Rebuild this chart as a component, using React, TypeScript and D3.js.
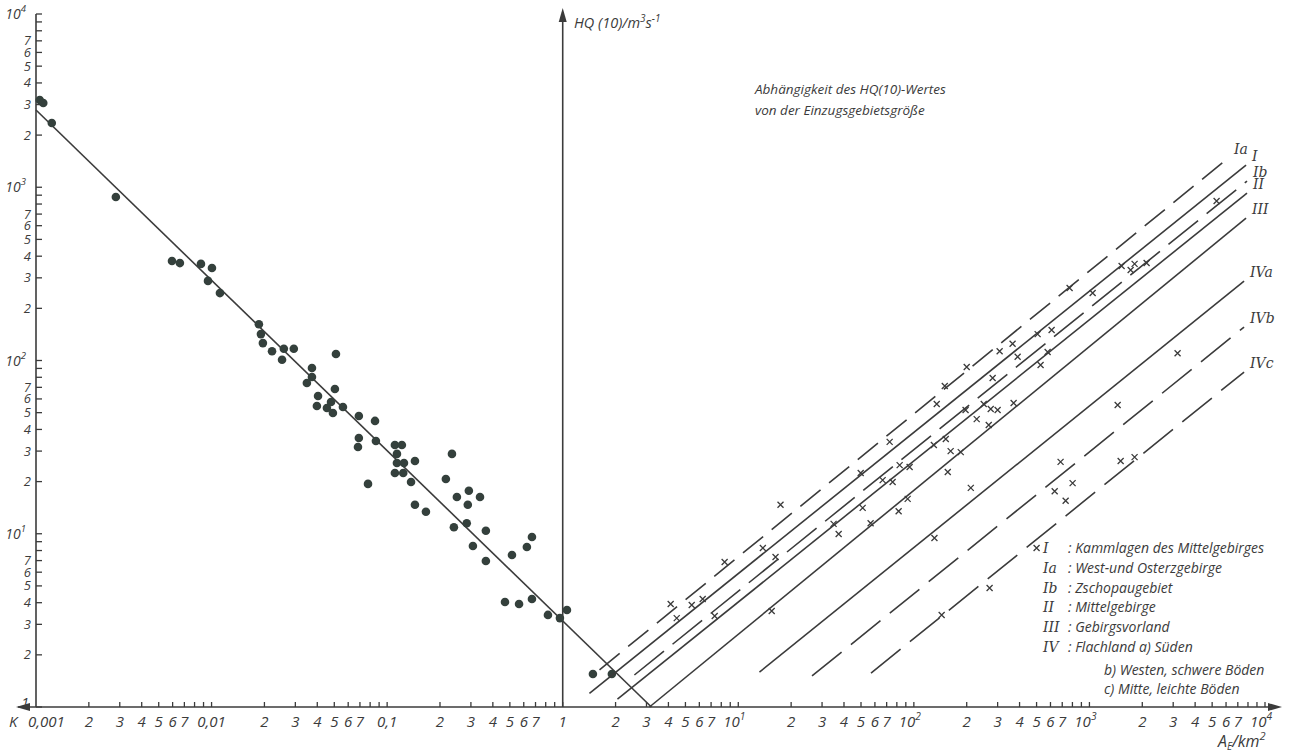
import React from "react";
import * as d3 from "d3";

const W = 1291;
const H = 756;

// left half: K values (dimensionless) with their HQ(10)
const K_POINTS: [number, number][] = [
  [0.00105, 3190], [0.0011, 3064], [0.00123, 2350], [0.00285, 879], [0.00595, 375],
  [0.0066, 365], [0.0087, 361], [0.01005, 342], [0.00954, 288], [0.01116, 245],
  [0.0186, 162], [0.0191, 142], [0.0196, 126], [0.0221, 113], [0.0258, 117],
  [0.0294, 117], [0.0252, 101], [0.0373, 90.5], [0.0349, 74.1], [0.0373, 80.3],
  [0.0511, 109], [0.0404, 62.4], [0.0398, 54.6], [0.0454, 53.2], [0.0479, 57.6],
  [0.0491, 49.8], [0.0504, 68.5], [0.056, 53.9], [0.069, 47.8], [0.0853, 44.8],
  [0.069, 35.7], [0.0682, 31.7], [0.0863, 34.3], [0.0778, 19.4], [0.1107, 32.5],
  [0.1213, 32.5], [0.1137, 28.9], [0.1137, 25.6], [0.1247, 25.6], [0.1107, 22.4],
  [0.1235, 22.4], [0.144, 26.3], [0.1368, 19.9], [0.144, 14.7], [0.1663, 13.4],
  [0.234, 28.9], [0.216, 20.7], [0.2496, 16.3], [0.292, 17.7], [0.338, 16.3],
  [0.288, 14.7], [0.24, 10.9], [0.284, 11.5], [0.365, 10.4], [0.308, 8.5],
  [0.365, 6.96], [0.514, 7.54], [0.625, 8.38], [0.668, 9.58], [0.469, 4.04],
  [0.564, 3.93], [0.668, 4.2], [0.824, 3.4], [0.964, 3.26], [1.057, 3.63],
  [1.486, 1.55], [1.905, 1.55],
];

// regression line HQ(K)
const K_LINE: [number, number][] = [[0.001, 2790], [3.2, 1]];

// right half: catchment areas A_E (km²) with HQ(10)
const AE_POINTS: [number, number][] = [
  [4.12, 3.93], [4.46, 3.26], [5.43, 3.88], [6.27, 4.2], [7.34, 3.35],
  [8.36, 6.87], [13.8, 8.27], [16.3, 7.34], [15.5, 3.58], [17.4, 14.7],
  [34.9, 11.4], [37.3, 9.97], [51.1, 14.1], [56.7, 11.5], [49.8, 22.4],
  [72.8, 33.9], [66.4, 20.4], [75.7, 19.9], [83, 24.9], [94.6, 24.3],
  [81.9, 13.5], [92.2, 15.9], [131, 9.45], [156, 22.7], [144, 3.4],
  [135, 56.1], [150, 71.2], [130, 32.5], [152, 35.2], [162, 30],
  [185, 29.6], [197, 51.8], [228, 45.9], [250, 56.1], [274, 52.5],
  [300, 51.8], [267, 42.4], [370, 56.9], [200, 91.7], [281, 79.2],
  [308, 113], [365, 125], [390, 105], [527, 94.2], [578, 112],
  [507, 142], [609, 150], [771, 262], [1043, 245], [1525, 351],
  [1717, 333], [1808, 361], [2117, 365], [5300, 833], [211, 18.4],
  [685, 26], [802, 19.6], [634, 17.6], [732, 15.5], [1448, 55.4],
  [1506, 26.3], [1808, 27.7], [3177, 110], [500, 8.27], [270, 4.86],
];

// regional lines HQ(10) = f(A_E): start and end points [A_E, HQ]
const REGIONS = ["Ia", "I", "Ib", "II", "III", "IVa", "IVb", "IVc"];
const REGION_START: [number, number][] = [
  [1.62, 1.64], [1.42, 1.2], [2.56, 1.53], [2.05, 1.11], [3.12, 1.0], [13.2, 1.59], [26.3, 1.51], [57, 1.57],
];
const REGION_END: [number, number][] = [
  [6160, 1472], [7800, 1341], [7900, 1084], [7900, 925], [7800, 663], [7600, 287], [7600, 156], [7600, 85.8],
];
const REGION_DASH: Record<string, string | undefined> = {
  Ia: "26 11", I: undefined, Ib: "38 11", II: undefined, III: undefined, IVa: undefined, IVb: "38 12", IVc: "38 12",
};

const LEGEND_KEYS = ["I", "Ia", "Ib", "II", "III", "IV"];
const LEGEND_TEXT = [
  ": Kammlagen des Mittelgebirges",
  ": West-und Osterzgebirge",
  ": Zschopaugebiet",
  ": Mittelgebirge",
  ": Gebirgsvorland",
  ": Flachland  a) Süden",
];
const LEGEND_EXTRA = ["b) Westen, schwere Böden", "c) Mitte, leichte Böden"];

const K_DECADES: Record<number, string> = { [-3]: "0,001", [-2]: "0,01", [-1]: "0,1", 0: "1" };
const TITLE = ["Abhängigkeit des HQ(10)-Wertes", "von der Einzugsgebietsgröße"];

const INK = "#3b3b3b";
const FONT = "'Open Sans', 'DejaVu Sans', sans-serif";

function Pow10({ x, y, exp, anchor = "middle", size = 15 }: any) {
  return (
    <text x={x} y={y} textAnchor={anchor} fontSize={size}>
      10<tspan dy={-7} fontSize={size * 0.68}>{exp}</tspan>
    </text>
  );
}

export default function App() {
  const x = d3.scaleLog().domain([1e-3, 1e4]).range([36, 1265]);
  const y = d3.scaleLog().domain([1, 1e4]).range([707, 14]);
  const x0 = x(1);
  const baseY = y(1);

  const decOf = (d: number) => Math.floor(Math.log10(d) + 1e-9);
  const mant = (d: number) => Math.round(d / Math.pow(10, decOf(d)));

  const xTicks = x.ticks();
  const yTicks = y.ticks();

  const line = d3.line<[number, number]>().x(d => x(d[0])).y(d => y(d[1]));

  return (
    <svg width={W} height={H} style={{ position: "absolute", left: 0, top: 0, background: "#fff" }}
      fontFamily={FONT} fontStyle="italic" fill={INK}>
      {/* axes */}
      <line x1={18} x2={1278} y1={baseY} y2={baseY} stroke={INK} strokeWidth={1.6} />
      <path d={`M16,${baseY} L30,${baseY - 4} L30,${baseY + 4} Z`} fill={INK} />
      <path d={`M1282,${baseY} L1268,${baseY - 4} L1268,${baseY + 4} Z`} fill={INK} />
      <line x1={36} x2={36} y1={baseY} y2={y(1e4)} stroke={INK} strokeWidth={1.6} />
      <line x1={x0} x2={x0} y1={baseY} y2={12} stroke={INK} strokeWidth={1.6} />
      <path d={`M${x0},8 L${x0 - 4},22 L${x0 + 4},22 Z`} fill={INK} />

      {/* y ticks */}
      {yTicks.map((d, i) => {
        const m = mant(d);
        const e = decOf(d);
        const py = y(d);
        return (
          <g key={"y" + i}>
            <line x1={36} x2={42} y1={py} y2={py} stroke={INK} strokeWidth={1.3} />
            {m === 1 ? (
              e === 0 ? <text x={29} y={py + 1} textAnchor="end" fontSize={14}>1</text>
                : <Pow10 x={26} y={py + 5} exp={e} anchor="end" size={14} />
            ) : m <= 7 ? (
              <text x={31} y={py + 4.5} textAnchor="end" fontSize={13}>{m}</text>
            ) : null}
          </g>
        );
      })}

      {/* x ticks */}
      {xTicks.map((d, i) => {
        const m = mant(d);
        const e = decOf(d);
        const px = x(d);
        const label = m === 1 ? (e <= 0 ? K_DECADES[e] : null) : m <= 7 ? String(m) : "";
        return (
          <g key={"x" + i}>
            {px > 40 && <line x1={px} x2={px} y1={baseY} y2={baseY - 5} stroke={INK} strokeWidth={1.3} />}
            {m === 1 && e > 0 ? (
              <Pow10 x={px - 4} y={baseY + 20} exp={e} />
            ) : e === -3 && m === 1 ? (
              <text x={28} y={baseY + 20} fontSize={15}>{label}</text>
            ) : (
              <text x={px} y={baseY + 20} textAnchor="middle" fontSize={15}>{label}</text>
            )}
          </g>
        );
      })}
      <text x={9} y={baseY + 20} fontSize={15}>K</text>
      <text x={1218} y={baseY + 40} fontSize={16}>
        A<tspan dy={3} fontSize={10}>E</tspan><tspan dy={-3}>/km</tspan><tspan dy={-7} fontSize={11}>2</tspan>
      </text>
      <text x={574} y={28} fontSize={14.5}>
        HQ (10)/m<tspan dy={-6} fontSize={10}>3</tspan><tspan dy={6}>s</tspan><tspan dy={-6} fontSize={10}>-1</tspan>
      </text>

      {/* title */}
      {TITLE.map((t, i) => (
        <text key={t} x={755} y={94 + i * 21} fontSize={13.5}>{t}</text>
      ))}

      {/* K regression line and dots */}
      <path d={line(K_LINE) || ""} fill="none" stroke={INK} strokeWidth={1.6} />
      {K_POINTS.map((d, i) => (
        <circle key={"k" + i} cx={x(d[0])} cy={y(d[1])} r={4.3} fill="#34403c" />
      ))}

      {/* regional lines */}
      {REGIONS.map((r, i) => {
        const s = REGION_START[i];
        const e = REGION_END[i];
        return (
          <g key={r}>
            <path d={line([s, e]) || ""} fill="none" stroke={INK} strokeWidth={1.6}
              strokeDasharray={REGION_DASH[r]} />
            <text x={x(e[0]) + 6} y={y(e[1]) - 4} fontSize={14} fontFamily="'DejaVu Serif', serif">{r}</text>
          </g>
        );
      })}

      {/* crosses */}
      {AE_POINTS.map((d, i) => {
        const cx = x(d[0]);
        const cy = y(d[1]);
        return (
          <path key={"a" + i} d={`M${cx - 3},${cy - 3}L${cx + 3},${cy + 3}M${cx - 3},${cy + 3}L${cx + 3},${cy - 3}`}
            stroke={INK} strokeWidth={1.3} />
        );
      })}

      {/* legend */}
      {LEGEND_KEYS.map((k, i) => (
        <g key={"l" + k}>
          <text x={1043} y={553 + i * 19.8} fontSize={14} fontFamily="'DejaVu Serif', serif">{k}</text>
          <text x={1068} y={553 + i * 19.8} fontSize={14}>{LEGEND_TEXT[i]}</text>
        </g>
      ))}
      {LEGEND_EXTRA.map((t, i) => (
        <text key={t} x={1104} y={675 + i * 19} fontSize={14}>{t}</text>
      ))}
    </svg>
  );
}
